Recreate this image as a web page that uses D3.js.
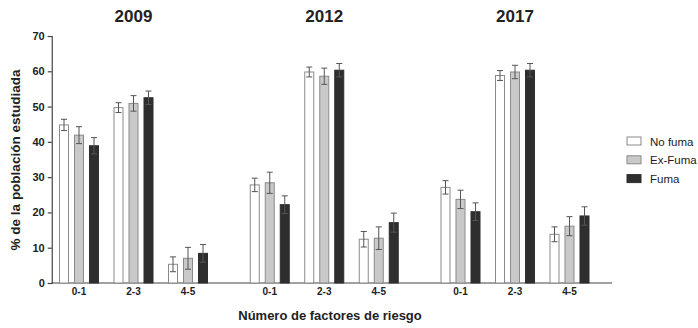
<!DOCTYPE html>
<html>
<head>
<meta charset="utf-8">
<script src="https://cdn.jsdelivr.net/npm/d3@7"></script>
<style>
  body { margin: 0; background: #fff; }
  svg { font-family: "Liberation Sans", Arial, sans-serif; }
</style>
</head>
<body>
<div id="chart"></div>
<script>
// datos
const years = ['2009', '2012', '2017'];
const categories = ['0-1', '2-3', '4-5'];
const series = ['No fuma', 'Ex-Fuma', 'Fuma'];
const colors = ['#ffffff', '#c9c9c9', '#2e2e2e'];
const strokes = ['#8a8a8a', '#8a8a8a', '#2e2e2e'];
const yTicks = [0, 10, 20, 30, 40, 50, 60, 70];

// valores[año][categoría][serie]
const values2009 = [[44.8, 41.9, 38.9], [49.7, 50.9, 52.5], [5.3, 7.0, 8.4]];
const values2012 = [[27.8, 28.4, 22.2], [59.8, 58.6, 60.3], [12.4, 12.7, 17.1]];
const values2017 = [[27.1, 23.7, 20.2], [58.8, 59.8, 60.3], [13.8, 16.1, 19.0]];
const errors2009 = [[1.6, 2.4, 2.3], [1.4, 2.2, 1.9], [2.1, 3.1, 2.5]];
const errors2012 = [[1.9, 3.0, 2.5], [1.4, 2.3, 1.9], [2.2, 3.2, 2.7]];
const errors2017 = [[1.9, 2.6, 2.5], [1.4, 1.9, 1.9], [2.1, 2.7, 2.6]];

const values = [values2009, values2012, values2017];
const errors = [errors2009, errors2012, errors2017];

const W = 698, H = 328;
const svg = d3.select('#chart').append('svg').attr('width', W).attr('height', H);

// posición de cada grupo: 3 grupos por panel, hueco de 1.5 entre paneles
const slot = (p, c) => p * 3.5 + c;
const x = d3.scaleLinear().domain([0, 9]).range([79, 569.5]);
const xs = d3.scaleBand().domain(series).range([-25, 25]).padding(1 / 3);
const y = d3.scaleLinear().domain([0, 70]).range([283, 36]);

const rows = [];
years.forEach((yr, p) => categories.forEach((cat, c) => series.forEach((s, k) => {
  rows.push({ p, c, k, s, v: values[p][c][k], e: errors[p][c][k] });
})));

// eje y
const yAxis = svg.append('g').attr('transform', `translate(${x(-0.5)},0)`)
  .call(d3.axisLeft(y).tickValues(yTicks).tickSize(4).tickPadding(3));
yAxis.select('.domain').attr('stroke', '#444').attr('stroke-width', 1.2);
yAxis.selectAll('.tick line').attr('stroke', '#444').attr('stroke-width', 1.2);
yAxis.selectAll('.tick text').attr('fill', '#222').style('font-size', '11px').style('font-weight', 'bold')
  .style('font-family', '"Liberation Sans", Arial, sans-serif');

// eje x
svg.append('line')
  .attr('x1', x(-0.5)).attr('x2', 612)
  .attr('y1', y(0)).attr('y2', y(0))
  .attr('stroke', '#444').attr('stroke-width', 1.2);

// barras
const bars = svg.append('g');
bars.selectAll('rect').data(rows).join('rect')
  .attr('x', d => x(slot(d.p, d.c)) + xs(d.s) + 0.5)
  .attr('width', xs.bandwidth() - 1)
  .attr('y', d => y(d.v))
  .attr('height', d => y(0) - y(d.v))
  .attr('fill', d => colors[d.k])
  .attr('stroke', d => strokes[d.k])
  .attr('stroke-width', 1);

// barras de error
const err = svg.append('g').attr('stroke', '#555').attr('stroke-width', 1);
rows.forEach(d => {
  const cx = x(slot(d.p, d.c)) + xs(d.s) + xs.bandwidth() / 2;
  err.append('line').attr('x1', cx).attr('x2', cx).attr('y1', y(d.v + d.e)).attr('y2', y(d.v - d.e));
  err.append('line').attr('x1', cx - 3).attr('x2', cx + 3).attr('y1', y(d.v + d.e)).attr('y2', y(d.v + d.e));
  err.append('line').attr('x1', cx - 3).attr('x2', cx + 3).attr('y1', y(d.v - d.e)).attr('y2', y(d.v - d.e));
});

// etiquetas de categoría
years.forEach((yr, p) => categories.forEach((cat, c) => {
  svg.append('text')
    .attr('x', x(slot(p, c))).attr('y', 295)
    .attr('text-anchor', 'middle')
    .style('font-size', '10px').style('font-weight', 'bold').attr('fill', '#222')
    .text(cat);
}));

// títulos
years.forEach((yr, p) => {
  svg.append('text')
    .attr('x', x(slot(p, 1))).attr('y', 22)
    .attr('text-anchor', 'middle')
    .style('font-size', '17px').style('font-weight', 'bold').attr('fill', '#222')
    .text(yr);
});

// títulos de ejes
svg.append('text')
  .attr('transform', `translate(20,160) rotate(-90)`)
  .attr('text-anchor', 'middle')
  .style('font-size', '13.5px').style('font-weight', 'bold').attr('fill', '#222')
  .text('% de la población estudiada');

svg.append('text')
  .attr('x', 330).attr('y', 320)
  .attr('text-anchor', 'middle')
  .style('font-size', '13px').style('font-weight', 'bold').attr('fill', '#222')
  .text('Número de factores de riesgo');

// leyenda
const legend = svg.append('g').attr('transform', 'translate(627,137)');
series.forEach((s, k) => {
  const g = legend.append('g').attr('transform', `translate(0,${k * 18.8})`);
  g.append('rect').attr('width', 14).attr('height', 8)
    .attr('fill', colors[k]).attr('stroke', strokes[k]).attr('stroke-width', 1);
  g.append('text').attr('x', 23).attr('y', 8.5)
    .style('font-size', '11.5px').attr('fill', '#222').text(s);
});
</script>
</body>
</html>
